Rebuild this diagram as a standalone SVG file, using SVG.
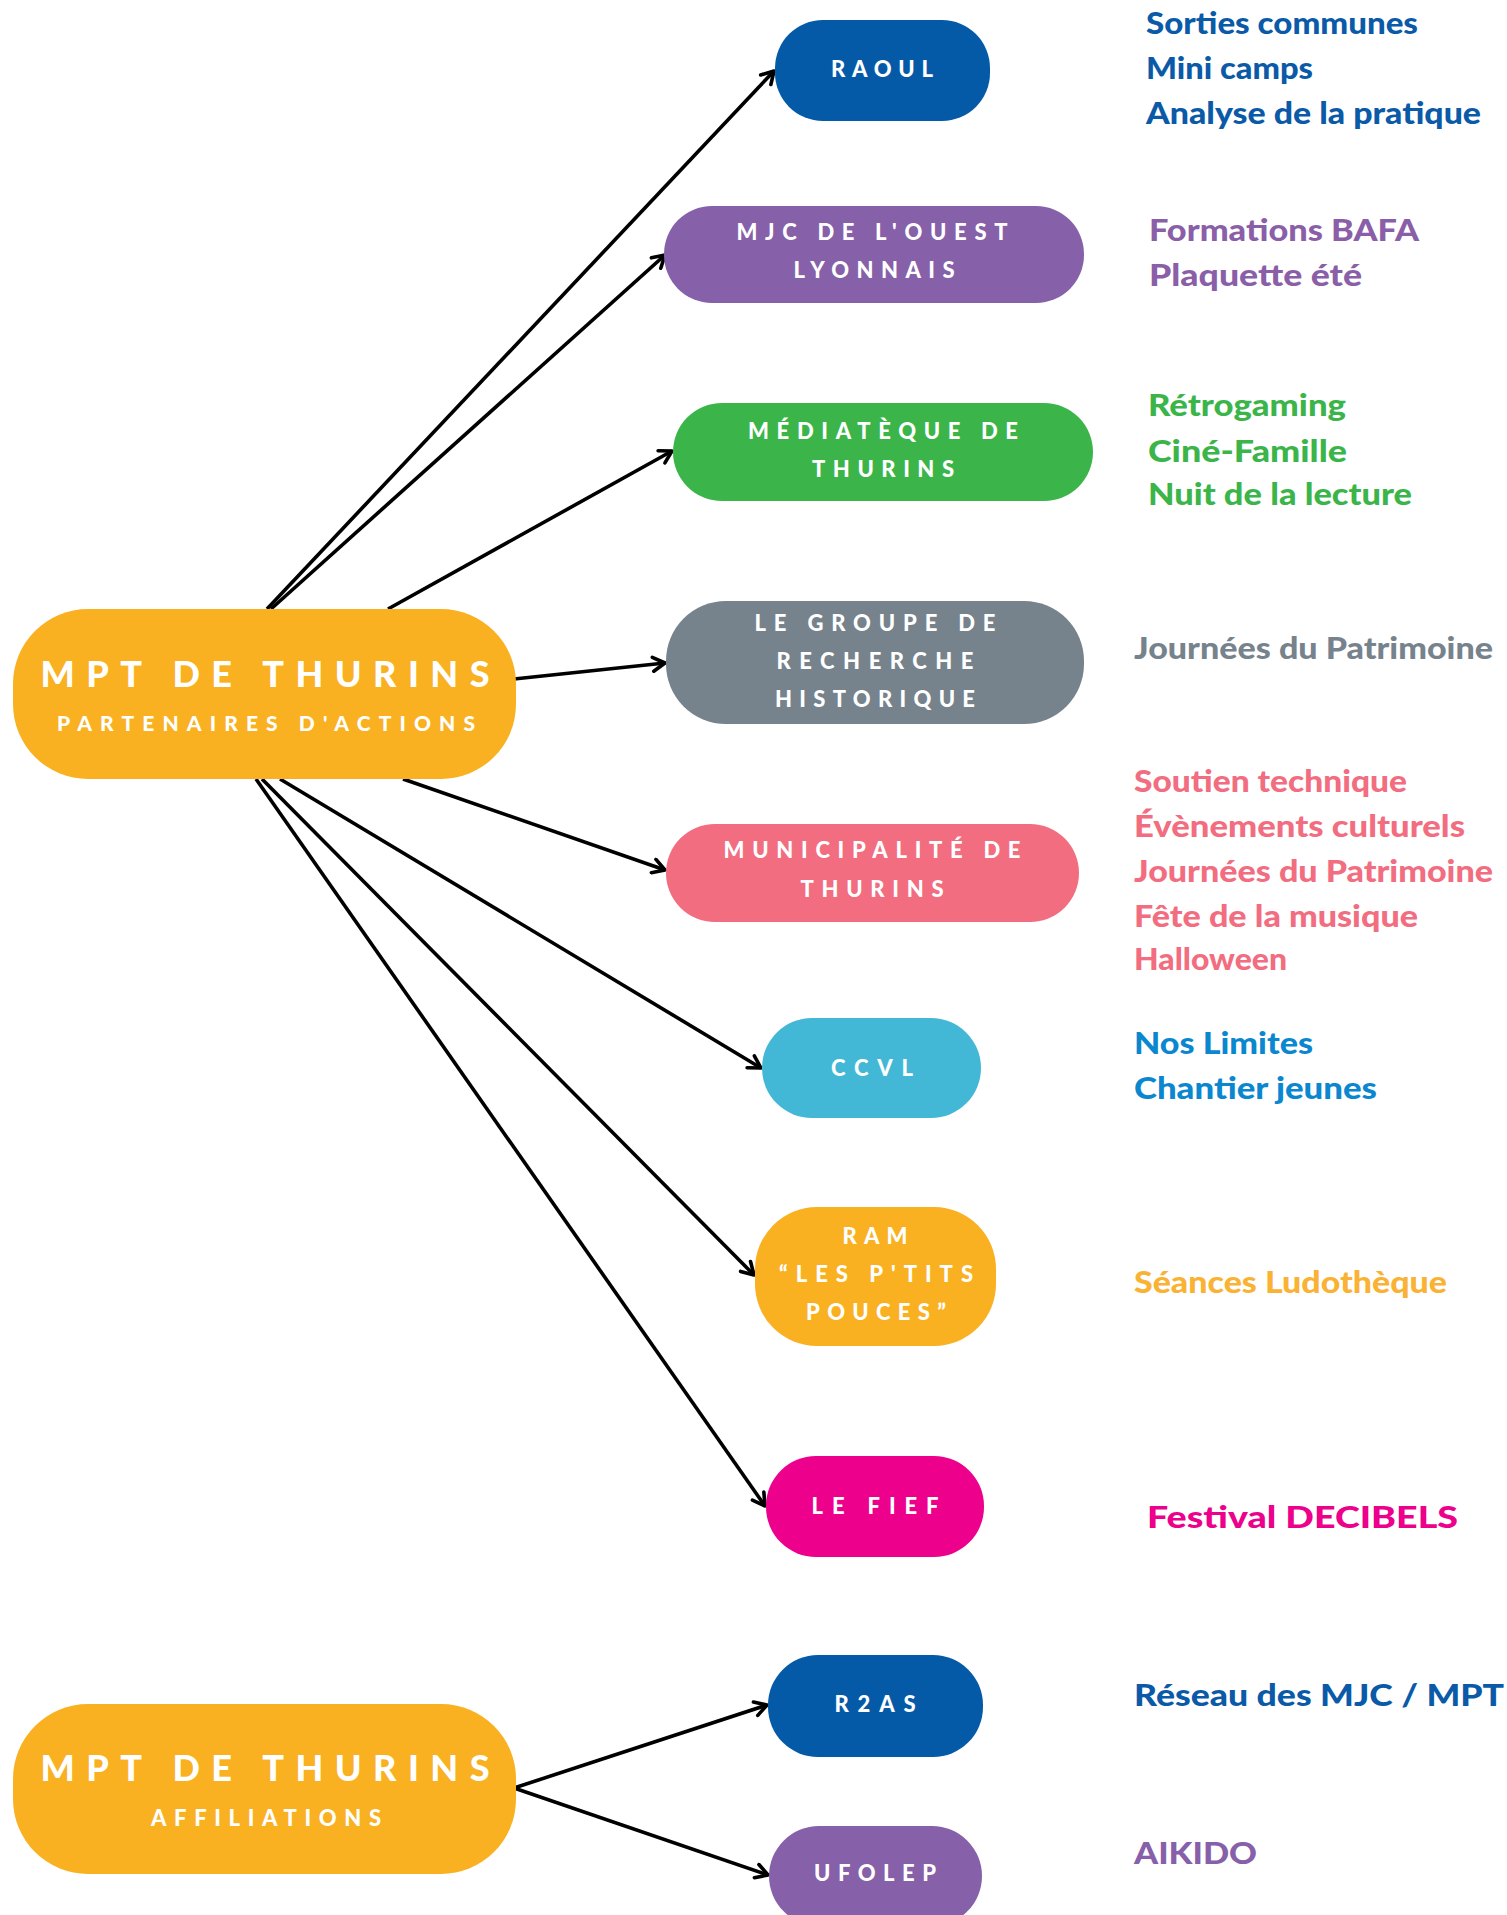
<svg xmlns="http://www.w3.org/2000/svg" width="1507" height="1915" viewBox="0 0 1507 1915">
<style>
.lbl{font-family:"Lato","Liberation Sans",sans-serif;font-weight:900;fill:#fff;text-anchor:middle;font-size:22px}
.big{font-size:36px}
.sub{font-size:21px}
.rt{font-family:"Lato","Liberation Sans",sans-serif;font-weight:900;font-size:30px}
.con{stroke:#000;stroke-width:3.6;fill:none;marker-end:url(#arr)}
</style>
<defs>
<marker id="arr" viewBox="0 0 18 18" refX="15" refY="9" markerWidth="18" markerHeight="18" markerUnits="userSpaceOnUse" orient="auto">
<path d="M3,2 L15,9 L3,16" fill="none" stroke="#000" stroke-width="3.6" stroke-linecap="round" stroke-linejoin="round"/>
</marker>
</defs>
<rect width="1507" height="1915" fill="#fff"/>
<g id="connectors">
<line class="con" x1="267" y1="609" x2="774" y2="71"/>
<line class="con" x1="271" y1="609" x2="665" y2="255"/>
<line class="con" x1="388" y1="609" x2="672" y2="451"/>
<line class="con" x1="514" y1="679" x2="665" y2="663"/>
<line class="con" x1="403" y1="779" x2="665" y2="870"/>
<line class="con" x1="280" y1="779" x2="761" y2="1068"/>
<line class="con" x1="262" y1="779" x2="754" y2="1275"/>
<line class="con" x1="256" y1="779" x2="765" y2="1506"/>
<line class="con" x1="514" y1="1788" x2="767" y2="1705"/>
<line class="con" x1="514" y1="1788" x2="768" y2="1875"/>
</g>
<g id="mpt-partenaires">
<rect x="13" y="609" width="503" height="170" rx="75" fill="#F9B122"/>
<text class="lbl big" x="265" y="687" textLength="449" lengthAdjust="spacing">MPT DE THURINS</text>
<text class="lbl sub" x="266" y="731" textLength="418" lengthAdjust="spacing">PARTENAIRES D'ACTIONS</text>
</g>
<g id="raoul">
<rect x="775" y="20" width="215" height="101" rx="48" fill="#055AA8"/>
<text class="lbl" x="882" y="77" textLength="102" lengthAdjust="spacing">RAOUL</text>
</g>
<g id="mjc">
<rect x="664" y="206" width="420" height="97" rx="48" fill="#8660A8"/>
<text class="lbl" x="872" y="240" textLength="271" lengthAdjust="spacing">MJC DE L'OUEST</text>
<text class="lbl" x="874" y="278" textLength="161" lengthAdjust="spacing">LYONNAIS</text>
</g>
<g id="mediateque">
<rect x="673" y="403" width="420" height="98" rx="49" fill="#3BB54A"/>
<text class="lbl" x="883" y="439" textLength="270" lengthAdjust="spacing">MÉDIATÈQUE DE</text>
<text class="lbl" x="883" y="477" textLength="142" lengthAdjust="spacing">THURINS</text>
</g>
<g id="groupe">
<rect x="666" y="601" width="418" height="123" rx="60" fill="#76838C"/>
<text class="lbl" x="875" y="631" textLength="241" lengthAdjust="spacing">LE GROUPE DE</text>
<text class="lbl" x="875" y="669" textLength="197" lengthAdjust="spacing">RECHERCHE</text>
<text class="lbl" x="875" y="707" textLength="200" lengthAdjust="spacing">HISTORIQUE</text>
</g>
<g id="municipalite">
<rect x="666" y="824" width="413" height="98" rx="49" fill="#F16D7F"/>
<text class="lbl" x="872" y="858" textLength="297" lengthAdjust="spacing">MUNICIPALITÉ DE</text>
<text class="lbl" x="872" y="897" textLength="143" lengthAdjust="spacing">THURINS</text>
</g>
<g id="ccvl">
<rect x="762" y="1018" width="219" height="100" rx="50" fill="#42B8D6"/>
<text class="lbl" x="872" y="1076" textLength="82" lengthAdjust="spacing">CCVL</text>
</g>
<g id="ram">
<rect x="755" y="1207" width="241" height="139" rx="62" fill="#F9B122"/>
<text class="lbl" x="875" y="1244" textLength="65" lengthAdjust="spacing">RAM</text>
<text class="lbl" x="876" y="1282" textLength="194" lengthAdjust="spacing">“LES P'TITS</text>
<text class="lbl" x="876" y="1320" textLength="140" lengthAdjust="spacing">POUCES”</text>
</g>
<g id="fief">
<rect x="766" y="1456" width="218" height="101" rx="50" fill="#EC008C"/>
<text class="lbl" x="875" y="1514" textLength="127" lengthAdjust="spacing">LE FIEF</text>
</g>
<g id="mpt-affiliations">
<rect x="13" y="1704" width="503" height="170" rx="75" fill="#F9B122"/>
<text class="lbl big" x="265" y="1781" textLength="449" lengthAdjust="spacing">MPT DE THURINS</text>
<text class="lbl" x="266" y="1826" textLength="230" lengthAdjust="spacing">AFFILIATIONS</text>
</g>
<g id="r2as">
<rect x="768" y="1655" width="215" height="102" rx="50" fill="#055AA8"/>
<text class="lbl" x="875" y="1712" textLength="81" lengthAdjust="spacing">R2AS</text>
</g>
<g id="ufolep">
<rect x="769" y="1826" width="213" height="100" rx="50" fill="#8660A8"/>
<text class="lbl" x="875" y="1881" textLength="122" lengthAdjust="spacing">UFOLEP</text>
</g>
<g id="actions">
<g fill="#0A5AA8" class="rt">
<text x="1146" y="34" textLength="272" lengthAdjust="spacingAndGlyphs">Sorties communes</text>
<text x="1146" y="79" textLength="167" lengthAdjust="spacingAndGlyphs">Mini camps</text>
<text x="1146" y="124" textLength="335" lengthAdjust="spacingAndGlyphs">Analyse de la pratique</text>
</g>
<g fill="#8A5FA8" class="rt">
<text x="1149" y="241" textLength="270" lengthAdjust="spacingAndGlyphs">Formations BAFA</text>
<text x="1149" y="286" textLength="213" lengthAdjust="spacingAndGlyphs">Plaquette été</text>
</g>
<g fill="#3BB54A" class="rt">
<text x="1148" y="416" textLength="198" lengthAdjust="spacingAndGlyphs">Rétrogaming</text>
<text x="1148" y="462" textLength="199" lengthAdjust="spacingAndGlyphs">Ciné-Famille</text>
<text x="1148" y="505" textLength="264" lengthAdjust="spacingAndGlyphs">Nuit de la lecture</text>
</g>
<g fill="#76838C" class="rt">
<text x="1134" y="659" textLength="359" lengthAdjust="spacingAndGlyphs">Journées du Patrimoine</text>
</g>
<g fill="#F16D7F" class="rt">
<text x="1134" y="792" textLength="273" lengthAdjust="spacingAndGlyphs">Soutien technique</text>
<text x="1134" y="837" textLength="331" lengthAdjust="spacingAndGlyphs">Évènements culturels</text>
<text x="1134" y="882" textLength="359" lengthAdjust="spacingAndGlyphs">Journées du Patrimoine</text>
<text x="1134" y="927" textLength="284" lengthAdjust="spacingAndGlyphs">Fête de la musique</text>
<text x="1134" y="970" textLength="153" lengthAdjust="spacingAndGlyphs">Halloween</text>
</g>
<g fill="#0B87D0" class="rt">
<text x="1134" y="1054" textLength="179" lengthAdjust="spacingAndGlyphs">Nos Limites</text>
<text x="1134" y="1099" textLength="243" lengthAdjust="spacingAndGlyphs">Chantier jeunes</text>
</g>
<g fill="#F9B233" class="rt">
<text x="1134" y="1293" textLength="313" lengthAdjust="spacingAndGlyphs">Séances Ludothèque</text>
</g>
<g fill="#EC008C" class="rt">
<text x="1147" y="1528" textLength="311" lengthAdjust="spacingAndGlyphs">Festival DECIBELS</text>
</g>
<g fill="#0A5AA8" class="rt">
<text x="1134" y="1706" textLength="370" lengthAdjust="spacingAndGlyphs">Réseau des MJC / MPT</text>
</g>
<g fill="#8660A8" class="rt">
<text x="1134" y="1864" textLength="123" lengthAdjust="spacingAndGlyphs">AIKIDO</text>
</g>
</g>
</svg>
